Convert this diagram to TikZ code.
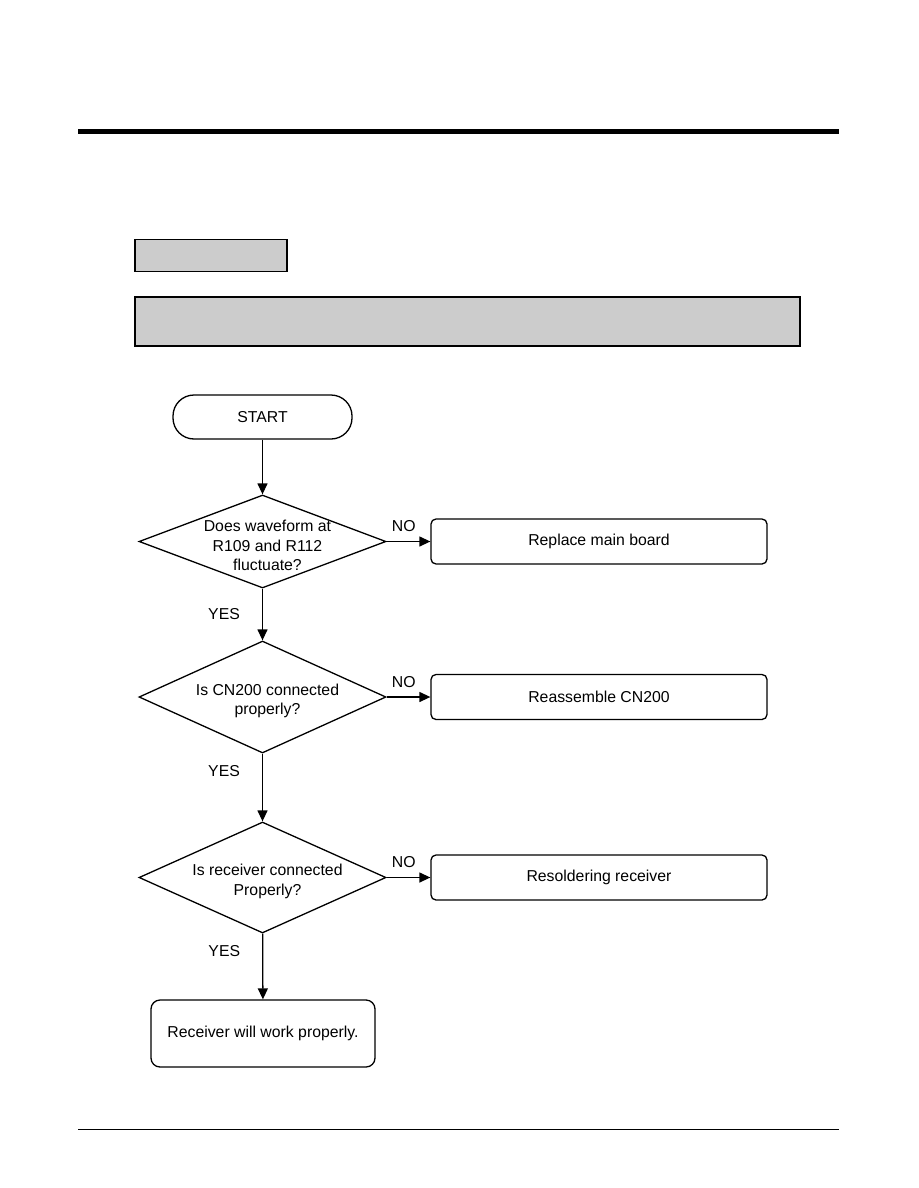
\documentclass[tikz,border=0pt]{standalone}
\usepackage{fontspec}
\setmainfont{Liberation Sans}
\usetikzlibrary{shapes.geometric, arrows.meta, positioning}

\begin{document}
\begin{tikzpicture}[
  x=1pt, y=-1pt,
  font=\fontsize{15.8}{19.5}\selectfont,
  terminal/.style={rectangle, draw, line width=1.3pt, rounded corners=21pt, minimum width=179pt, minimum height=44pt},
  decision/.style={diamond, draw, line width=1.3pt, minimum width=247pt, inner sep=0pt},
  question/.style={align=center, xshift=5pt, yshift=-4pt},
  action/.style={rectangle, draw, line width=1.3pt, rounded corners=5pt, minimum width=336pt, minimum height=45pt},
  banner/.style={rectangle, draw, line width=1.3pt, fill=black!20},
  answer/.style={inner sep=0pt},
  arrow/.style={-{Triangle[length=11pt,width=10pt]}, line width=1.3pt}
]
\fill[white] (0,0) rectangle (918,1188);
\useasboundingbox (0,0) rectangle (918,1188);

% page rules and header boxes
\draw[line width=4.5pt] (78,131.7) -- (839,131.7);
\draw[line width=1pt] (78,1129.5) -- (839,1129.5);
\node[banner, minimum width=152pt, minimum height=32pt] (model) at (211,255.5) {};
\node[banner, minimum width=665pt, minimum height=49pt] (symptom) at (467.5,321.5) {};

% flow
\node[terminal] (start) at (262.5,417) {START};

\node[decision, minimum height=93pt, label={[question]center:Does waveform at\\R109 and R112\\fluctuate?}] (q1) at (262.5,541.5) {};
\node[action] (fix1) at (599,541.5) {Replace main board};

\node[decision, minimum height=112pt, label={[question]center:Is CN200 connected\\properly?}] (q2) at (262.5,697) {};
\node[action] (fix2) at (599,697) {Reassemble CN200};

\node[decision, minimum height=111pt, label={[question]center:Is receiver connected\\Properly?}] (q3) at (262.5,877.5) {};
\node[action] (fix3) at (599,877.5) {Resoldering receiver};

\node[action, rounded corners=9pt, minimum width=224pt, minimum height=67pt] (done) at (263,1033.5) {Receiver will work properly.};

\draw[arrow] (start) -- (q1);
\draw[arrow] (q1) -- node[answer, above=9pt, pos=0.39] {NO} (fix1);
\draw[arrow] (q1) -- node[answer, left=22pt, pos=0.5] {YES} (q2);
\draw[arrow] (q2) -- node[answer, above=9pt, pos=0.39] {NO} (fix2);
\draw[arrow] (q2) -- node[answer, left=22pt, pos=0.26] {YES} (q3);
\draw[arrow] (q3) -- node[answer, above=9pt, pos=0.39] {NO} (fix3);
\draw[arrow] (q3) -- node[answer, left=22pt, pos=0.26] {YES} (done);

\end{tikzpicture}
\end{document}
